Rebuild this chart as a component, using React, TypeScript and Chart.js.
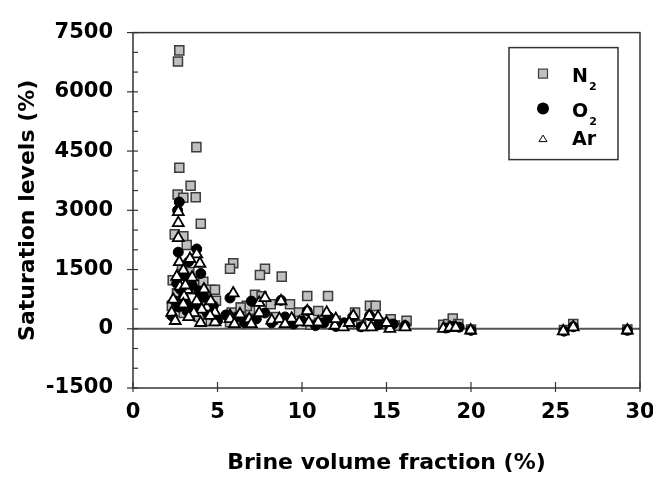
import React, { useEffect, useRef } from 'react';
import { Chart, registerables } from 'chart.js';

Chart.register(...registerables);

// ---- data (brine volume fraction %, saturation %) ----
const N2_X = [2.74, 2.66, 3.75, 2.74, 3.41, 2.64, 2.98, 3.71, 4.01, 2.47, 2.98, 3.18, 3.33, 2.35, 3.86, 4.16, 4.57, 4.85, 4.91, 2.3,
  5.93, 5.74, 7.81, 7.51, 8.8, 7.41, 6.43, 6.92, 5.84, 5.74, 8.15, 9.29, 9.82, 10.31, 10.96, 11.54, 13.14, 14.02, 14.36, 15.25,
  16.19, 18.36, 18.66, 18.92, 19.25, 20.0, 25.5, 26.05, 29.25, 2.9, 3.5, 4.3, 3.0, 2.6, 3.9, 4.6, 12.0, 12.8, 11.0, 9.5,
  8.4, 7.0, 6.2, 10.5, 13.5, 14.8, 15.5, 15.0, 7.22, 7.61, 6.73, 6.37];
const N2_Y = [7050, 6770, 4600, 4080, 3620, 3400, 3320, 3330, 2660, 2390, 2340, 2120, 1440, 1230, 1190, 1190, 990, 990, 710, 580,
  1660, 1520, 1520, 1360, 1320, 820, 540, 450, 410, 165, 620, 620, 410, 830, 450, 830, 410, 580, 580, 240,
  200, 100, 120, 260, 120, -20, -30, 120, -20, 1600, 1000, 600, 400, 900, 300, 200, 200, 120, 150, 200,
  300, 250, 300, 100, 100, 150, 80, 120, 860, 820, 580, 540];

const O2_X = [2.74, 2.64, 2.68, 3.77, 4.01, 2.59, 3.18, 2.29, 2.98, 4.75, 5.74, 3.3, 3.0, 2.8, 3.5, 3.9, 4.2, 2.5, 3.2, 3.6,
  4.4, 4.9, 2.7, 3.8, 5.0, 5.5, 6.2, 6.6, 7.0, 7.3, 7.8, 8.2, 8.76, 9.0, 9.5, 10.0, 10.31, 10.8, 11.3, 11.6,
  12.0, 12.5, 13.0, 13.5, 14.0, 14.5, 15.2, 15.4, 16.1, 18.5, 18.9, 19.3, 20.0, 25.5, 26.05, 29.25];
const O2_Y = [3210, 3000, 1940, 2020, 1400, 1150, 620, 330, 800, 580, 780, 1700, 1350, 1000, 1100, 950, 800, 700, 450, 500,
  400, 250, 550, 600, 200, 350, 300, 150, 700, 250, 400, 150, 720, 300, 120, 200, 450, 80, 150, 300,
  60, 150, 300, 50, 330, 100, 50, 120, 80, 20, 60, 40, -40, -60, 50, -40];

const AR_X = [2.68, 2.68, 2.68, 3.77, 3.37, 3.96, 2.74, 2.98, 2.59, 3.21, 2.78, 2.38, 3.02, 3.77, 2.29, 2.98, 4.36, 4.85, 4.85, 5.74,
  5.93, 4.56, 4.07, 5.74, 6.33, 6.88, 7.47, 7.47, 7.81, 8.21, 8.66, 8.76, 9.39, 9.84, 10.31, 10.96, 10.4, 11.46, 11.95, 13.04,
  13.63, 13.98, 14.1, 15.2, 16.1, 12.44, 18.36, 18.75, 19.1, 19.98, 25.46, 26.05, 29.25, 3.5, 3.1, 4.2, 3.6, 2.5, 3.3, 4.0,
  4.6, 6.0, 7.0, 9.0, 12.0, 12.8, 15.0, 14.5];
const AR_Y = [2960, 2680, 2300, 1890, 1770, 1650, 1690, 1480, 1320, 990, 1070, 740, 820, 700, 410, 620, 540, 410, 165, 330,
  900, 330, 490, 250, 370, 250, 400, 660, 780, 210, 250, 700, 260, 165, 450, 165, 160, 410, 80, 330,
  40, 330, 40, 0, 40, 40, 0, 30, 30, -40, -60, 40, -40, 1300, 1100, 1000, 400, 200, 300, 150,
  700, 120, 120, 120, 250, 150, 150, 300];

const X_TICKS = [0, 5, 10, 15, 20, 25, 30];
const Y_TICKS = [-1500, 0, 1500, 3000, 4500, 6000, 7500];
const Y_MINOR_STEP = 500;

const LEGEND_MAIN = ['N', 'O', 'Ar'];
const LEGEND_SUB = ['2', '2', ''];

const X_TITLE = 'Brine volume fraction (%)';
const Y_TITLE = 'Saturation levels (%)';

const FONT = 'DejaVu Sans';

function pts(xs: number[], ys: number[]) {
  return xs.map((x, i) => ({ x, y: ys[i] }));
}

const framePlugin = {
  id: 'frame',
  beforeDatasetsDraw(chart: any) {
    const { ctx, chartArea: a, scales } = chart;
    const x = scales.x;
    const y = scales.y;
    const line = (x1: number, y1: number, x2: number, y2: number) => {
      ctx.beginPath();
      ctx.moveTo(x1, y1);
      ctx.lineTo(x2, y2);
      ctx.stroke();
    };
    ctx.save();
    // zero line
    ctx.strokeStyle = '#555555';
    ctx.lineWidth = 2;
    const y0 = y.getPixelForValue(0);
    line(a.left, y0, a.right, y0);
    // frame
    ctx.strokeStyle = '#333333';
    ctx.lineWidth = 1.5;
    ctx.strokeRect(a.left, a.top, a.right - a.left, a.bottom - a.top);
    // y ticks
    ctx.lineWidth = 1.2;
    const yMin = Y_TICKS[0];
    const yMax = Y_TICKS[Y_TICKS.length - 1];
    for (let v = yMin; v <= yMax; v += Y_MINOR_STEP) {
      const py = y.getPixelForValue(v);
      const major = Y_TICKS.includes(v);
      line(major ? a.left - 6 : a.left, py, a.left + 5, py);
    }
    // x ticks
    for (const v of X_TICKS) {
      const px = x.getPixelForValue(v);
      line(px, a.bottom - 6, px, a.bottom + 4);
    }
    ctx.restore();
  },
  afterDraw(chart: any) {
    const { ctx, chartArea: a } = chart;
    const bx = a.right - 131;
    const by = a.top + 15;
    const bw = 109;
    const bh = 112;
    ctx.save();
    ctx.fillStyle = '#ffffff';
    ctx.fillRect(bx, by, bw, bh);
    ctx.strokeStyle = '#333333';
    ctx.lineWidth = 1.5;
    ctx.strokeRect(bx, by, bw, bh);
    const symX = bx + 34;
    const rows = [by + 26, by + 61, by + 91];
    // square
    ctx.fillStyle = '#c0c0c0';
    ctx.strokeStyle = '#3c3c3c';
    ctx.lineWidth = 1.2;
    ctx.fillRect(symX - 4.5, rows[0] - 4.5, 9, 9);
    ctx.strokeRect(symX - 4.5, rows[0] - 4.5, 9, 9);
    // circle
    ctx.fillStyle = '#000000';
    ctx.beginPath();
    ctx.arc(symX, rows[1], 6, 0, Math.PI * 2);
    ctx.fill();
    // triangle
    ctx.fillStyle = '#ffffff';
    ctx.strokeStyle = '#000000';
    ctx.lineWidth = 1;
    ctx.beginPath();
    ctx.moveTo(symX, rows[2] - 3.5);
    ctx.lineTo(symX + 4, rows[2] + 3);
    ctx.lineTo(symX - 4, rows[2] + 3);
    ctx.closePath();
    ctx.fill();
    ctx.stroke();
    // text
    ctx.fillStyle = '#000000';
    ctx.textBaseline = 'alphabetic';
    ctx.textAlign = 'left';
    const tx = bx + 63;
    LEGEND_MAIN.forEach((t, i) => {
      const base = rows[i] + 8 - (i === 2 ? 2 : 0);
      ctx.font = `bold 19px "${FONT}"`;
      ctx.fillText(t, tx, base);
      const w = ctx.measureText(t).width;
      if (LEGEND_SUB[i]) {
        ctx.font = `bold 11px "${FONT}"`;
        ctx.fillText(LEGEND_SUB[i], tx + w + 1, base + 8);
      }
    });
    ctx.restore();
  },
};

export default function App() {
  const ref = useRef<HTMLCanvasElement>(null);
  useEffect(() => {
    if (!ref.current) return;
    const chart = new Chart(ref.current, {
      type: 'scatter',
      data: {
        datasets: [
          {
            label: 'N2',
            data: pts(N2_X, N2_Y),
            pointStyle: 'rect',
            pointRadius: 6.4,
            backgroundColor: '#c0c0c0',
            borderColor: '#3c3c3c',
            borderWidth: 1.5,
            order: 3,
          },
          {
            label: 'O2',
            data: pts(O2_X, O2_Y),
            pointStyle: 'circle',
            pointRadius: 5,
            backgroundColor: '#000000',
            borderColor: '#000000',
            borderWidth: 1,
            order: 2,
          },
          {
            label: 'Ar',
            data: pts(AR_X, AR_Y),
            pointStyle: 'triangle',
            pointRadius: 6.3,
            backgroundColor: '#ffffff',
            borderColor: '#000000',
            borderWidth: 1.8,
            order: 1,
          },
        ],
      },
      options: {
        responsive: false,
        animation: false,
        events: [],
        layout: { padding: { left: 0, top: 23, right: 13, bottom: 0 } },
        plugins: { legend: { display: false }, tooltip: { enabled: false } },
        scales: {
          x: {
            type: 'linear',
            min: X_TICKS[0],
            max: X_TICKS[X_TICKS.length - 1],
            afterBuildTicks: (s: any) => {
              s.ticks = X_TICKS.map((v) => ({ value: v }));
            },
            afterFit: (s: any) => {
              s.height = 89;
              s.paddingLeft = 0;
              s.paddingRight = 0;
            },
            grid: { display: false, drawTicks: false },
            border: { display: false },
            ticks: {
              padding: 12,
              maxRotation: 0,
              color: '#000000',
              font: { family: FONT, weight: 'bold', size: 21 },
              callback: (v: any) => String(v),
            },
            title: {
              display: true,
              text: X_TITLE,
              color: '#000000',
              font: { family: FONT, weight: 'bold', size: 22 },
              padding: { top: 0, bottom: 1 },
            },
          },
          y: {
            type: 'linear',
            min: Y_TICKS[0],
            max: Y_TICKS[Y_TICKS.length - 1],
            afterBuildTicks: (s: any) => {
              s.ticks = Y_TICKS.map((v) => ({ value: v }));
            },
            afterFit: (s: any) => {
              s.width = 133;
            },
            grid: { display: false, drawTicks: false },
            border: { display: false },
            ticks: {
              padding: 20,
              color: '#000000',
              font: { family: FONT, weight: 'bold', size: 21 },
              callback: (v: any) => String(v),
            },
            title: {
              display: true,
              text: Y_TITLE,
              color: '#000000',
              font: { family: FONT, weight: 'bold', size: 22 },
              padding: { top: 15, bottom: 0 },
            },
          },
        },
      },
      plugins: [framePlugin],
    });
    return () => chart.destroy();
  }, []);
  return (
    <div style={{ position: 'absolute', left: 0, top: 0, width: 653, height: 477, background: '#ffffff' }}>
      <canvas ref={ref} width={653} height={477} />
    </div>
  );
}
